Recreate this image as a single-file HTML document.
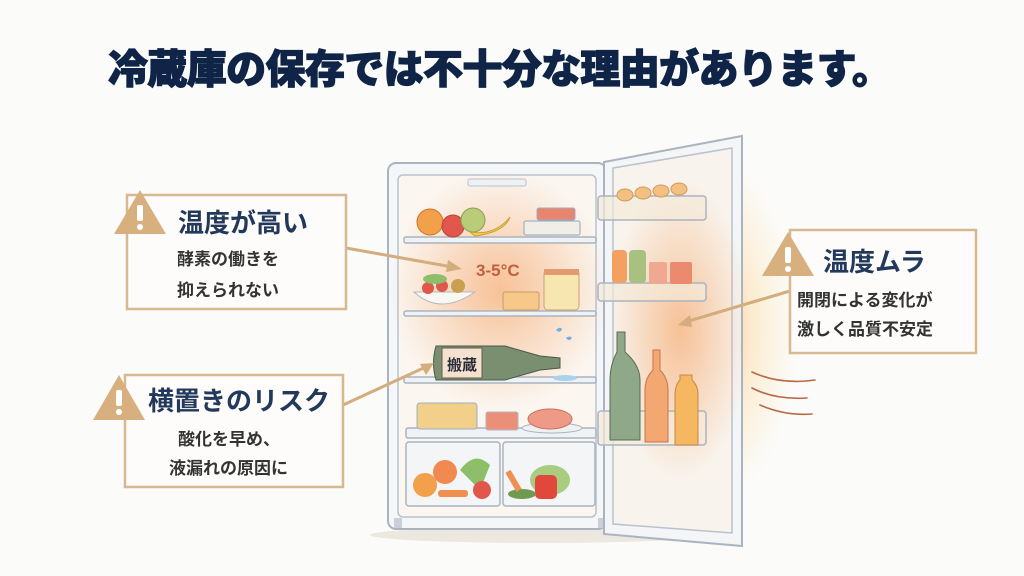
<!DOCTYPE html>
<html><head><meta charset="utf-8"><style>
html,body{margin:0;padding:0;background:#fbfbfa;}
svg{display:block;}
text{font-family:"Liberation Sans","Noto Sans CJK JP",sans-serif;}
</style></head><body>
<svg width="1024" height="576" viewBox="0 0 1024 576" xmlns="http://www.w3.org/2000/svg">
<defs>
<radialGradient id="g1" cx="0.5" cy="0.5" r="0.5"><stop offset="0" stop-color="#f6b07a" stop-opacity="0.75"/><stop offset="1" stop-color="#f6b07a" stop-opacity="0"/></radialGradient>
<radialGradient id="g2" cx="0.5" cy="0.5" r="0.5"><stop offset="0" stop-color="#f7a060" stop-opacity="0.7"/><stop offset="0.6" stop-color="#fbd38a" stop-opacity="0.35"/><stop offset="1" stop-color="#fde2a0" stop-opacity="0"/></radialGradient>
</defs>
<rect width="1024" height="576" fill="#fbfbfa"/>
<text x="108" y="83" font-size="40" font-weight="900" fill="#0f2447" stroke="#0f2447" stroke-width="1.2" textLength="784">冷蔵庫の保存では不十分な理由があります。</text>

<!-- shadow -->
<ellipse cx="540" cy="535" rx="170" ry="8" fill="#ece8e0"/>
<!-- glows -->
<ellipse cx="690" cy="330" rx="110" ry="190" fill="url(#g2)"/>
<!-- fridge body -->
<rect x="388" y="163" width="218" height="366" rx="8" fill="#f4f6f8" stroke="#aab4c0" stroke-width="2"/>
<rect x="398" y="175" width="198" height="342" rx="5" fill="#fbf6f0" stroke="#b9c2cc" stroke-width="1.5"/>
<ellipse cx="500" cy="290" rx="110" ry="120" fill="url(#g1)"/>
<rect x="468" y="179" width="58" height="7" rx="2" fill="#eef1f4" stroke="#b9c2cc"/>
<!-- shelves -->
<g fill="#eef2f5" stroke="#aab4c0" stroke-width="1.5">
<rect x="404" y="237" width="192" height="6" rx="2"/>
<rect x="404" y="311" width="192" height="5" rx="2"/>
<rect x="404" y="377" width="192" height="6" rx="2"/>
<rect x="406" y="428" width="190" height="10" rx="2"/>
<rect x="406" y="442" width="94" height="64" rx="3" fill="#f3f5f7"/>
<rect x="503" y="442" width="92" height="64" rx="3" fill="#f3f5f7"/>
</g>
<rect x="394" y="518" width="8" height="10" fill="#c9d0d8"/><rect x="598" y="518" width="8" height="10" fill="#c9d0d8"/>
<!-- top shelf food -->
<circle cx="430" cy="222" r="13" fill="#f3a04a" stroke="#c9732c"/>
<circle cx="453" cy="226" r="11" fill="#e2574b" stroke="#b9443a"/>
<circle cx="473" cy="220" r="12" fill="#b8cc7a" stroke="#8aa050"/>
<path d="M470 232 Q495 236 510 217 Q505 232 475 236 Z" fill="#f6cf4b" stroke="#c9a030"/>
<rect x="537" y="208" width="38" height="12" rx="2" fill="#e9856f" stroke="#9bb0c4"/>
<rect x="524" y="221" width="56" height="14" rx="2" fill="#f1eee8" stroke="#8aa6c0"/>
<!-- 2nd shelf -->
<path d="M414 292 Q440 316 475 292 Z" fill="#f8f7f2" stroke="#b0b8c0"/>
<circle cx="428" cy="288" r="6" fill="#e2574b"/><circle cx="442" cy="286" r="6" fill="#e2574b"/><circle cx="458" cy="286" r="7" fill="#c8a050"/>
<ellipse cx="435" cy="279" rx="12" ry="5" fill="#8dbf6a"/>
<text x="476" y="276" font-size="17" font-weight="bold" fill="#c0603e">3-5°C</text>
<rect x="503" y="292" width="36" height="18" rx="2" fill="#f6c98a" stroke="#c99a60"/>
<rect x="544" y="270" width="35" height="40" rx="4" fill="#f8e6b0" stroke="#c9a070"/>
<rect x="544" y="269" width="35" height="6" fill="#e29a70"/>
<!-- bottle -->
<path d="M436 346 L505 346 L540 356 L560 358 L560 368 L540 370 L505 380 L436 380 Q431 363 436 346 Z" fill="#7a8f70" stroke="#4b5a48"/>
<rect x="442" y="348" width="40" height="30" fill="#f4e2d0" stroke="#6b5a48"/>
<text x="447" y="370" font-size="15" font-weight="bold" fill="#2b2b38">搬蔵</text>
<path d="M556 330 q4 -4 6 -1 q-2 5 -6 1z M566 338 q4 -3 6 0 q-3 4 -6 0z" fill="#6fb0e0"/>
<ellipse cx="565" cy="378" rx="12" ry="3" fill="#a9d2f0"/>
<!-- 4th shelf -->
<rect x="417" y="403" width="60" height="26" rx="3" fill="#f3d08a" stroke="#9bb0c4"/>
<rect x="486" y="412" width="32" height="18" rx="2" fill="#ec8f78" stroke="#b0b8c0"/>
<ellipse cx="552" cy="428" rx="30" ry="5" fill="#eef0f2" stroke="#aab4c0"/>
<ellipse cx="550" cy="419" rx="22" ry="10" fill="#ef9a86" stroke="#c9705e"/>
<!-- drawers -->
<circle cx="425" cy="485" r="12" fill="#f3a04a"/><circle cx="445" cy="472" r="12" fill="#f08a50"/>
<path d="M460 470 Q475 450 490 465 L480 490 Z" fill="#8dbf6a"/>
<circle cx="482" cy="490" r="9" fill="#e2574b"/>
<rect x="438" y="490" width="30" height="7" rx="3" fill="#f09050"/>
<ellipse cx="550" cy="480" rx="20" ry="15" fill="#a8cc80"/>
<rect x="535" y="475" width="22" height="24" rx="5" fill="#e2473b"/>
<ellipse cx="522" cy="494" rx="14" ry="5" fill="#6f9a50"/>
<rect x="510" y="470" width="6" height="22" fill="#f09050" transform="rotate(-30 513 480)"/>
<!-- door -->
<path d="M604 162 L742 136 L742 546 L604 534 Z" fill="#f3f5f7" stroke="#aab4c0" stroke-width="2"/>
<path d="M613 168 L732 148 L732 533 L613 524 Z" fill="#fcf1e4" stroke="#b9c2cc" stroke-width="1.5" fill-opacity="0.6"/>
<ellipse cx="680" cy="330" rx="70" ry="150" fill="url(#g1)"/>
<g fill="#f4ead8" fill-opacity="0.7" stroke="#aab4c0" stroke-width="1.5">
<rect x="598" y="196" width="108" height="24" rx="3"/>
<rect x="598" y="283" width="108" height="18" rx="3"/>
<rect x="598" y="411" width="108" height="34" rx="3"/>
</g>
<g fill="#f3c080" stroke="#c99a60"><ellipse cx="625" cy="195" rx="8" ry="6"/><ellipse cx="643" cy="193" rx="8" ry="6"/><ellipse cx="661" cy="191" rx="8" ry="6"/><ellipse cx="679" cy="189" rx="8" ry="6"/></g>
<rect x="612" y="250" width="15" height="33" rx="4" fill="#f3a060"/>
<rect x="629" y="250" width="17" height="33" rx="4" fill="#a8c080"/>
<rect x="649" y="262" width="18" height="22" rx="2" fill="#f0a890"/>
<rect x="670" y="262" width="22" height="22" rx="2" fill="#ec8a70"/>
<path d="M617 352 L617 332 L625 332 L625 352 Q640 365 640 380 L640 440 L610 440 L610 380 Q610 365 617 352Z" fill="#8fa888" stroke="#5b6a58"/>
<path d="M653 370 L653 350 L660 350 L660 370 Q668 378 668 390 L668 442 L645 442 L645 390 Q645 378 653 370Z" fill="#f2a870" stroke="#c9734c"/>
<path d="M680 380 L680 375 L692 375 L692 380 Q698 385 698 395 L698 445 L675 445 L675 395 Q675 385 680 380Z" fill="#f5b860" stroke="#c9844c"/>
<!-- waves -->
<g fill="none" stroke="#b86a48" stroke-width="1.6" stroke-linecap="round">
<path d="M752 372 Q780 385 815 380"/><path d="M752 388 Q775 400 807 398"/><path d="M760 405 Q785 416 812 414"/>
</g>
<!-- connectors -->
<g stroke="#d4ad7d" stroke-width="3" fill="none">
<line x1="346" y1="248" x2="458" y2="268"/>
<line x1="343" y1="405" x2="430" y2="365"/>
<line x1="790" y1="291" x2="682" y2="323"/>
</g>
<g fill="#d4ad7d"><polygon points="462,269 448,260 446,272"/><polygon points="434,363 420,364 426,375"/><polygon points="678,325 690,315 692,327"/></g>
<!-- boxes -->
<g fill="#fdfcfa" stroke="#d8b98f" stroke-width="2.5">
<rect x="127" y="195" width="219" height="114"/>
<rect x="125" y="375" width="218" height="112"/>
<rect x="790" y="230" width="186" height="123"/>
</g>
<g fill="#d8b080">
<polygon points="140,190 114,234 166,234"/>
<polygon points="119,375 93,420 145,420"/>
<polygon points="788,232 762,276 814,276"/>
</g>
<g fill="#fff"><rect x="137" y="205" width="6" height="16" rx="2"/><circle cx="140" cy="227" r="3"/>
<rect x="116" y="390" width="6" height="16" rx="2"/><circle cx="119" cy="412" r="3"/>
<rect x="785" y="247" width="6" height="16" rx="2"/><circle cx="788" cy="269" r="3"/></g>
<g font-weight="bold" fill="#23395b">
<text x="178" y="232" font-size="26">温度が高い</text>
<text x="148" y="410" font-size="26">横置きのリスク</text>
<text x="823" y="271" font-size="26">温度ムラ</text>
</g>
<g font-weight="bold" fill="#333" font-size="17">
<text x="177" y="265">酵素の働きを</text>
<text x="177" y="296">抑えられない</text>
<text x="178" y="445">酸化を早め、</text>
<text x="169" y="474">液漏れの原因に</text>
<text x="797" y="306">開閉による変化が</text>
<text x="797" y="335">激しく品質不安定</text>
</g>
</svg>
</body></html>
